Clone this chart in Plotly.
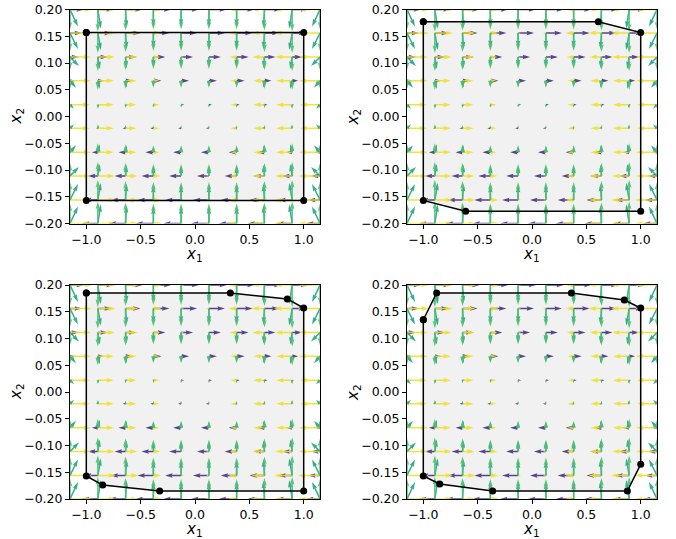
import math
import plotly.graph_objects as go

# ---------------- data ----------------
X1_GRID = [-1.15, -0.894, -0.639, -0.383, -0.128, 0.128, 0.383, 0.639, 0.894, 1.15]
X2_GRID = [0.2, 0.156, 0.111, 0.067, 0.022, -0.022, -0.067, -0.111, -0.156, -0.2]  # top -> bottom

# arrow components (screen-length units), rows follow X2_GRID, columns X1_GRID
YELLOW_U = [
    [22, 18, 14, 9, 4, -3, -8, -13, -18, -22],
    [22, 18, 13, 8, 3, -3, -8, -13, -18, -22],
    [21, 17, 12, 7, 3, -2, -7, -12, -17, -21],
    [21, 16, 11, 6, 2, -2, -6, -11, -16, -21],
    [20, 16, 11, 6, 2, -2, -6, -11, -16, -20],
    [20, 16, 11, 6, 2, -2, -6, -11, -16, -20],
    [21, 16, 11, 6, 2, -2, -6, -11, -16, -21],
    [21, 17, 12, 7, 2, -3, -7, -12, -17, -21],
    [22, 18, 13, 8, 3, -3, -8, -13, -18, -22],
    [22, 18, 13, 9, 3, -4, -9, -14, -18, -22],
]
PURPLE_U = [
    [14, 16, 17, 18, 18, 18, 18, 17, 16, 14],
    [12, 14, 15, 16, 16, 16, 16, 15, 14, 12],
    [9, 10, 11, 12, 12, 12, 12, 11, 10, 9],
    [5, 6, 7, 8, 8, 8, 8, 7, 6, 5],
    [2, 2, 3, 3, 3, 3, 3, 3, 2, 2],
    [-2, -2, -3, -3, -3, -3, -3, -3, -2, -2],
    [-5, -6, -7, -8, -8, -8, -8, -7, -6, -5],
    [-9, -10, -11, -12, -12, -12, -12, -11, -10, -9],
    [-12, -14, -15, -16, -16, -16, -16, -15, -14, -12],
    [-14, -16, -17, -18, -18, -18, -18, -17, -16, -14],
]
GREEN_V = [
    [-20, -22, -21, -20, -20, -20, -20, -21, -22, -20],
    [-18, -20, -19, -18, -18, -18, -18, -19, -20, -18],
    [-13, -14, -13, -12, -12, -12, -12, -13, -14, -13],
    [-8, -9, -8, -7, -7, -7, -7, -8, -9, -8],
    [-4, -4, -3, -3, -3, -3, -3, -3, -4, -4],
    [4, 4, 3, 3, 3, 3, 3, 3, 4, 4],
    [8, 9, 8, 7, 7, 7, 7, 8, 9, 8],
    [13, 14, 13, 12, 12, 12, 12, 13, 14, 13],
    [18, 20, 19, 18, 18, 18, 18, 19, 20, 18],
    [20, 22, 21, 20, 20, 20, 20, 21, 22, 20],
]
TEAL_U = [
    [8, 3, 1, 0, 0, 0, 0, -1, -3, -8],
    [8, 3, 1, 0, 0, 0, 0, -1, -3, -8],
    [9, 2, 1, 0, 0, 0, 0, -1, -2, -9],
    [6, 2, 1, 0, 0, 0, 0, -1, -2, -6],
    [4, 1, 0, 0, 0, 0, 0, 0, -1, -4],
    [4, 1, 0, 0, 0, 0, 0, 0, -1, -4],
    [6, 2, 1, 0, 0, 0, 0, -1, -2, -6],
    [9, 2, 1, 0, 0, 0, 0, -1, -2, -9],
    [8, 3, 1, 0, 0, 0, 0, -1, -3, -8],
    [8, 3, 1, 0, 0, 0, 0, -1, -3, -8],
]
TEAL_V = [
    [-17, -19, -18, -17, -17, -17, -17, -18, -19, -17],
    [-16, -17, -16, -15, -15, -15, -15, -16, -17, -16],
    [-9, -12, -11, -10, -10, -10, -10, -11, -12, -9],
    [-7, -8, -7, -6, -6, -6, -6, -7, -8, -7],
    [-4, -3, -3, -2, -2, -2, -2, -3, -3, -4],
    [4, 3, 3, 2, 2, 2, 2, 3, 3, 4],
    [7, 8, 7, 6, 6, 6, 6, 7, 8, 7],
    [9, 12, 11, 10, 10, 10, 10, 11, 12, 9],
    [16, 17, 16, 15, 15, 15, 15, 16, 17, 16],
    [17, 19, 18, 17, 17, 17, 17, 18, 19, 17],
]

# polygons per panel
POLY_X = [
    [-1.0, 1.0, 1.0, -1.0],
    [-1.0, 0.61, 1.0, 1.0, -0.61, -1.0],
    [-1.0, 0.325, 0.849, 1.0, 1.0, -0.325, -0.849, -1.0],
    [-1.0, -0.877, 0.362, 0.849, 1.0, 1.0, 0.877, -0.362, -0.849, -1.0],
]
POLY_Y = [
    [0.157, 0.157, -0.157, -0.157],
    [0.177, 0.177, 0.157, -0.177, -0.177, -0.157],
    [0.185, 0.185, 0.174, 0.157, -0.185, -0.185, -0.174, -0.157],
    [0.135, 0.185, 0.185, 0.172, 0.157, -0.135, -0.185, -0.185, -0.172, -0.157],
]

X_TICKS = [-1.0, -0.5, 0.0, 0.5, 1.0]
X_TICKTEXT = ["\u22121.0", "\u22120.5", "0.0", "0.5", "1.0"]
Y_TICKS = [0.20, 0.15, 0.10, 0.05, 0.0, -0.05, -0.10, -0.15, -0.20]
Y_TICKTEXT = ["0.20", "0.15", "0.10", "0.05", "0.00", "\u22120.05", "\u22120.10", "\u22120.15", "\u22120.20"]
X_LABEL = "<i>x</i><sub>1</sub>"
Y_LABEL = "<i>x</i><sub>2</sub>"

X_RANGE = [-1.15, 1.15]
Y_RANGE = [-0.2, 0.2]

# ---------------- layout geometry ----------------
W, H = 676, 539
PANELS = [  # left, right, top, bottom (window pixels), x-label offset
    (70, 320, 9.5, 223.5, 31),
    (407, 657, 9.5, 223.5, 31),
    (70, 320, 285, 499, 30),
    (407, 657, 285, 499, 30),
]


def fx(px):
    return px / W


def fy(py):
    return 1 - py / H


def arrow_polys(u_mat, v_mat, sx, sy):
    xs, ys = [], []
    shaft, hl, ha, hwid = 0.75, 7.5, 6.75, 2.25
    for i, yv in enumerate(X2_GRID):
        for j, xv in enumerate(X1_GRID):
            u = u_mat[i][j] if u_mat is not None else 0.0
            v = v_mat[i][j] if v_mat is not None else 0.0
            L = math.hypot(u, v)
            if L < 0.4:
                continue
            tx, ty = u / L, v / L
            nx, ny = -ty, tx
            s = min(1.0, L / hl)
            w_, HL, HA, HW = shaft * s, hl * s, ha * s, hwid * s
            pts = [(0, -w_), (L - HA, -w_), (L - HL, -HW), (L, 0), (L - HL, HW),
                   (L - HA, w_), (0, w_), (0, -w_)]
            for a, b in pts:
                xs.append(xv + (a * tx + b * nx) / sx)
                ys.append(yv + (a * ty + b * ny) / sy)
            xs.append(None)
            ys.append(None)
    return xs, ys


fig = go.Figure()
FONT = "DejaVu Sans"

sets = [
    (PURPLE_U, None, "#46337e"),
    (YELLOW_U, None, "#f0e022"),
    (TEAL_U, TEAL_V, "#20a386"),
    (None, GREEN_V, "#4ac16d"),
]

annotations = []
for k, (l, r, t, b, xoff) in enumerate(PANELS):
    xa = "x" if k == 0 else f"x{k + 1}"
    ya = "y" if k == 0 else f"y{k + 1}"
    sx = (r - l) / (X_RANGE[1] - X_RANGE[0])
    sy = (b - t) / (Y_RANGE[1] - Y_RANGE[0])

    px = POLY_X[k] + [POLY_X[k][0]]
    py = POLY_Y[k] + [POLY_Y[k][0]]
    fig.add_trace(go.Scatter(x=px, y=py, mode="lines", fill="toself",
                             fillcolor="#f1f1f1", line=dict(width=0),
                             xaxis=xa, yaxis=ya, showlegend=False, hoverinfo="skip"))
    for um, vm, col in sets:
        xs, ys = arrow_polys(um, vm, sx, sy)
        fig.add_trace(go.Scatter(x=xs, y=ys, mode="lines", fill="toself",
                                 fillcolor=col, line=dict(width=0, color=col),
                                 opacity=0.9, xaxis=xa, yaxis=ya,
                                 showlegend=False, hoverinfo="skip"))
    fig.add_trace(go.Scatter(x=px, y=py, mode="lines+markers",
                             line=dict(color="black", width=1.5),
                             marker=dict(color="black", size=7),
                             xaxis=xa, yaxis=ya, showlegend=False))

    axis_common = dict(showgrid=False, zeroline=False, showline=True, mirror=True,
                       linecolor="black", linewidth=1, ticks="outside", ticklen=4,
                       tickwidth=1, tickcolor="black", automargin=False,
                       tickfont=dict(family=FONT, size=12.5, color="black"))
    fig.layout[("xaxis" if k == 0 else f"xaxis{k + 1}")] = dict(
        domain=[fx(l), fx(r)], range=X_RANGE, anchor=ya, tickmode="array",
        tickvals=X_TICKS, ticktext=X_TICKTEXT, **axis_common)
    fig.layout[("yaxis" if k == 0 else f"yaxis{k + 1}")] = dict(
        domain=[fy(b), fy(t)], range=Y_RANGE, anchor=xa, tickmode="array",
        tickvals=Y_TICKS, ticktext=Y_TICKTEXT, **axis_common)

    annotations.append(dict(text=X_LABEL, xref="paper", yref="paper",
                            x=fx((l + r) / 2 - 1), y=fy(b + xoff), xanchor="center",
                            yanchor="middle", showarrow=False,
                            font=dict(family=FONT, size=15, color="black")))
    annotations.append(dict(text=Y_LABEL, xref="paper", yref="paper",
                            x=fx(l - 54), y=fy((t + b) / 2), xanchor="center",
                            yanchor="middle", showarrow=False, textangle=-90,
                            font=dict(family=FONT, size=15, color="black")))

fig.update_layout(width=W, height=H, margin=dict(l=0, r=0, t=0, b=0, autoexpand=False),
                  paper_bgcolor="white", plot_bgcolor="white", showlegend=False,
                  annotations=annotations)

fig.write_html("out.html", config={"displayModeBar": False},
               post_script="document.body.style.margin='0';document.body.style.overflow='hidden';")
